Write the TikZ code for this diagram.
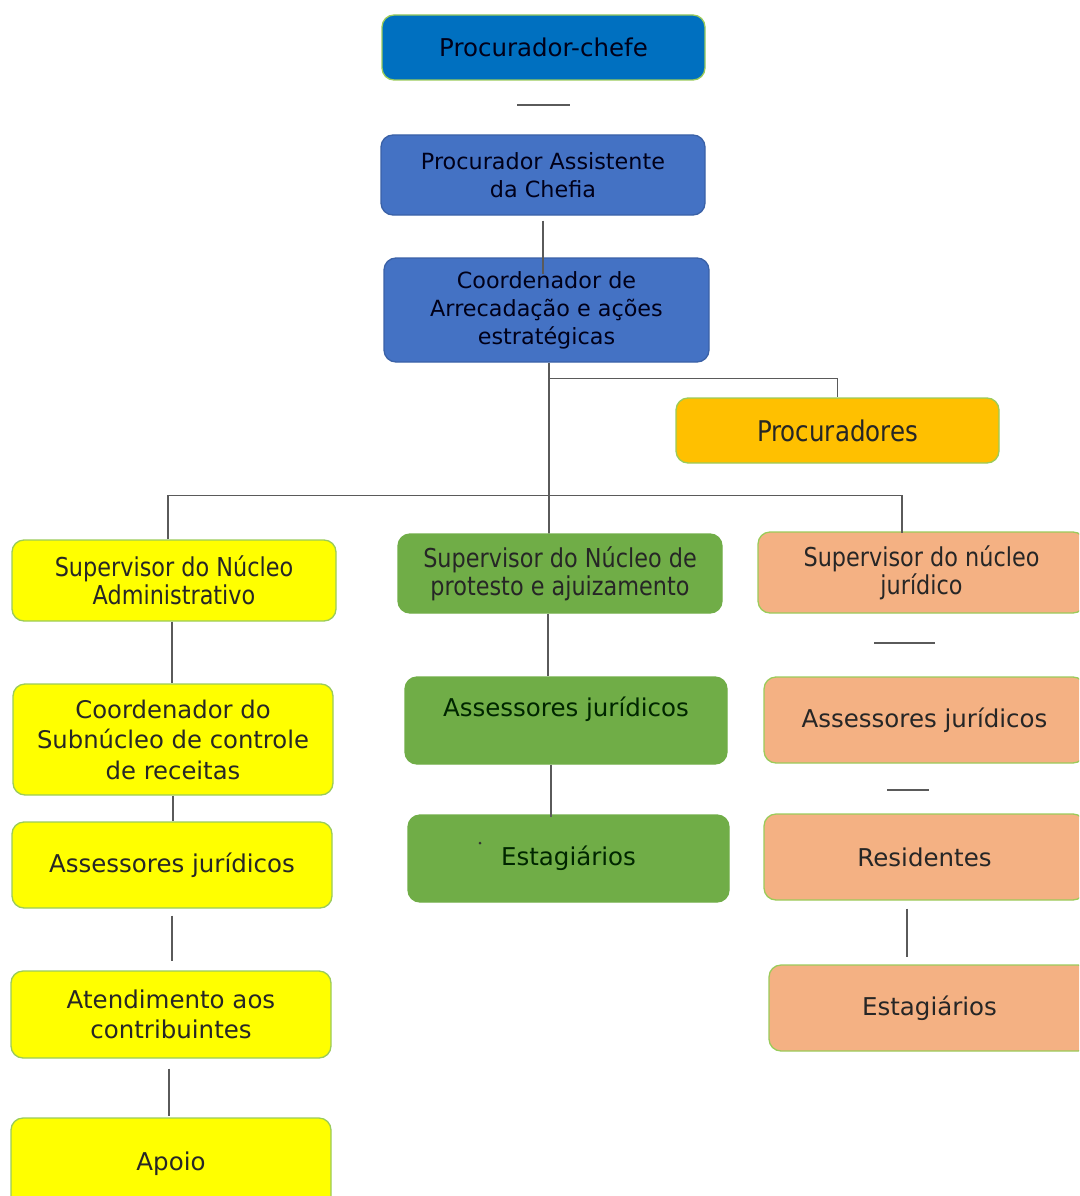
\documentclass[tikz,border=0pt]{standalone}
\usepackage{fontspec}
\setmainfont{DejaVu Sans}
\newfontfamily\cond[FakeStretch=0.86]{DejaVu Sans}
\definecolor{bdark}{HTML}{0070C0}
\definecolor{bmid}{HTML}{4472C4}
\definecolor{borange}{HTML}{FFC000}
\definecolor{byellow}{HTML}{FFFF00}
\definecolor{bgreen}{HTML}{70AD47}
\definecolor{bsalmon}{HTML}{F4B183}
\definecolor{edgegreen}{HTML}{9BCB5A}
\definecolor{connc}{HTML}{5A5A5A}
\tikzset{
  box/.style={draw=edgegreen, line width=1.3pt, rounded corners=12pt, align=center,
    inner sep=2pt, text=black!85, font=\fontsize{24.5}{28}\selectfont},
  condbox/.style={box, font=\cond\fontsize{26}{28}\selectfont},
  bluebox/.style={box, fill=bmid, draw=bmid!85!black, text=black!90!blue, font=\fontsize{22.3}{28}\selectfont},
  conn/.style={draw=connc, line width=1.4pt}
}
\begin{document}
\begin{tikzpicture}[x=1pt,y=-1pt]
\useasboundingbox (0,0) rectangle (1079,1196);
\clip (0,0) rectangle (1079,1196);
% top
\node[box, fill=bdark, text=black!90!blue, minimum width=323pt, minimum height=65pt] (pc) at (543.5,47.5) {Procurador-chefe};
\node[bluebox, minimum width=324pt, minimum height=80pt] (pa) at (543,175) {Procurador Assistente\\da Chefia};
\node[bluebox, minimum width=325pt, minimum height=104pt] (co) at (546.5,310) {Coordenador de\\Arrecadação e ações\\estratégicas};
\node[condbox, fill=borange, minimum width=323pt, minimum height=65pt, font=\cond\fontsize{28.5}{30}\selectfont] (pr) at (837.5,430.5) {Procuradores};
% supervisors
\node[condbox, fill=byellow, minimum width=324pt, minimum height=81pt] (sa) at (174,580.5) {Supervisor do Núcleo\\Administrativo};
\node[condbox, fill=bgreen, draw=bgreen, minimum width=324pt, minimum height=79pt] (sp) at (560,573.5) {Supervisor do Núcleo de\\protesto e ajuizamento};
\node[condbox, fill=bsalmon, minimum width=327pt, minimum height=81pt] (sj) at (921.5,572.5) {Supervisor do núcleo\\jurídico};
% left column
\node[box, fill=byellow, minimum width=320pt, minimum height=111pt, font=\fontsize{24.3}{30.5}\selectfont] (cs) at (173,739.5) {Coordenador do\\Subnúcleo de controle\\de receitas};
\node[box, fill=byellow, minimum width=320pt, minimum height=86pt] (aj1) at (172,865) {Assessores jurídicos};
\node[box, fill=byellow, minimum width=320pt, minimum height=87pt, font=\fontsize{24.5}{30}\selectfont] (at) at (171,1014.5) {Atendimento aos\\contribuintes};
\node[box, fill=byellow, minimum width=320pt, minimum height=92pt] (ap) at (171,1164) {Apoio};
% middle column
\node[box, fill=bgreen, draw=bgreen, minimum width=322pt, minimum height=87pt, text=black!85!green] (aj2) at (566,720.5) {Assessores jurídicos\\[0pt]~};
\node[box, fill=bgreen, draw=bgreen, minimum width=321pt, minimum height=87pt, text=black!85!green] (es2) at (568.5,858.5) {Estagiários};
\fill[black!80] (480,843) circle (1.5pt);
% right column
\node[box, fill=bsalmon, minimum width=321pt, minimum height=86pt] (aj3) at (924.5,720) {Assessores jurídicos};
\node[box, fill=bsalmon, minimum width=321pt, minimum height=86pt] (re) at (924.5,857) {Residentes};
\node[box, fill=bsalmon, minimum width=321pt, minimum height=86pt] (es3) at (929.5,1008) {Estagiários};
% free-floating short lines
\coordinate (h1a) at (517,105); \coordinate (h1b) at (570,105);
\coordinate (h2a) at (874,643); \coordinate (h2b) at (935,643);
\coordinate (h3a) at (887,790); \coordinate (h3b) at (929,790);
\draw[conn] (h1a) -- (h1b);
\draw[conn] (h2a) -- (h2b);
\draw[conn] (h3a) -- (h3b);
% connectors
\draw[conn] (pa.south) ++(0,5) -- ++(0,53);
\draw[conn] ([xshift=2.5pt]co.south) -- ([xshift=2.5pt]co.south |- sp.north) -- ++(0,-4);
\draw[conn] ([xshift=2.5pt]co.south) ++(0,16) -| (pr.north);
\draw[conn] ([xshift=-6pt]sa.north) -- ++(0,-44) -| ([xshift=-19.5pt,yshift=-2pt]sj.north);
\draw[conn] ([xshift=-2pt]sa.south) -- ([xshift=-2pt]sa.south |- cs.north);
\draw[conn] (cs.south) -- (cs.south |- aj1.north);
\draw[conn] (aj1.south) ++(0,7) -- ++(0,45);
\draw[conn] (at.south) ++(-2,10) -- ++(0,47);
\draw[conn] (sp.south) ++(-12,0) -- (aj2.north -| {(548,0)});
\draw[conn] (aj2.south) ++(-15,0) -- ++(0,52);
\draw[conn] (re.south) ++(-17.5,8) -- ++(0,48);
\end{tikzpicture}
\end{document}
